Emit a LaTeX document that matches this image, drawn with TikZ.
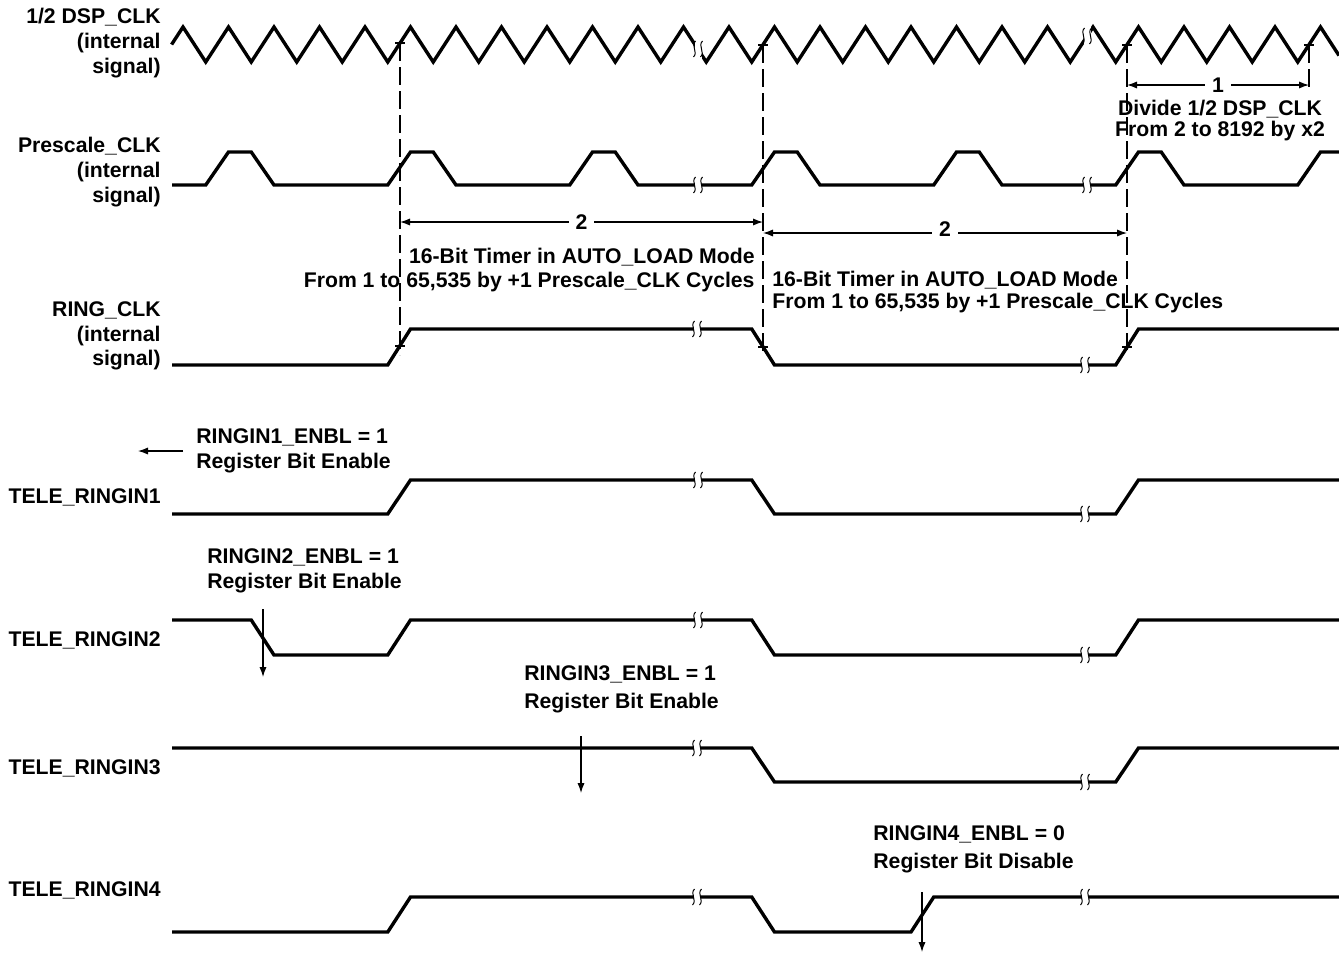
\documentclass[tikz,border=0pt]{standalone}
\usepackage{fontspec}
\setmainfont{Liberation Sans}
\usepackage{tikz}
\usetikzlibrary{arrows.meta}

\begin{document}
\begin{tikzpicture}[x=0.5pt, y=-0.5pt,
    every node/.style={font=\fontsize{10.6pt}{12.3pt}\selectfont\bfseries, inner sep=0pt},
    wave/.style={line width=1.7pt},
    guide/.style={line width=0.6pt, dash pattern=on 9pt off 3pt},
    dim/.style={line width=0.6pt, {Latex[length=5pt,width=3.6pt]}-{Latex[length=5pt,width=3.6pt]}},
    ptr/.style={line width=0.6pt, -{Latex[length=5pt,width=3.6pt]}},
    edgemark/.pic={\draw[line width=0.6pt] (-5,0) -- (5,0);},
    wavebreak/.pic={
        \fill[white] (-3.5,-10) rectangle (3.5,10);
        \draw[line width=0.5pt] (-2.5,-8) .. controls (-7.5,-3) and (0.5,3) .. (-4.5,8);
        \draw[line width=0.5pt] (4.5,-8) .. controls (-0.5,-3) and (7.5,3) .. (2.5,8);
    }]
    \useasboundingbox (0,0) rectangle (1339,953);

    % Signal names
    \node[anchor=east, align=right] (dspclk) at (161,43) {1/2 DSP\_CLK\\(internal\\signal)};
    \node[anchor=east, align=right] (prescale) at (161,172) {Prescale\_CLK\\(internal\\signal)};
    \node[anchor=east, align=right] (ringclk) at (161,336) {RING\_CLK\\(internal\\signal)};
    \node[anchor=east] (tele1) at (161,497) {TELE\_RINGIN1};
    \node[anchor=east] (tele2) at (161,640) {TELE\_RINGIN2};
    \node[anchor=east] (tele3) at (161,768) {TELE\_RINGIN3};
    \node[anchor=east] (tele4) at (161,890) {TELE\_RINGIN4};

    % Waveforms
    \draw[wave] (171.6,44.5) foreach \k in {0,...,24} { -- ({183+45.5*\k},27) -- ({205.75+45.5*\k},62) }
        -- (1320.5,27) -- (1339,55.5);
    \draw[wave] (172,185) foreach \k in {0,...,5} { -- ({205.75+182*\k},185) -- ({228.5+182*\k},152)
        -- ({251.25+182*\k},152) -- ({274+182*\k},185) } -- (1297.75,185) -- (1320.5,152) -- (1339,152);
    \draw[wave] (172,365) -- (387.75,365) -- (410.5,329) -- (751.75,329) -- (774.5,365)
        -- (1115.75,365) -- (1138.5,329) -- (1339,329);
    \draw[wave] (172,514) -- (387.75,514) -- (410.5,480) -- (751.75,480) -- (774.5,514)
        -- (1115.75,514) -- (1138.5,480) -- (1339,480);
    \draw[wave] (172,620) -- (251.25,620) -- (274,655) -- (387.75,655) -- (410.5,620) -- (751.75,620)
        -- (774.5,655) -- (1115.75,655) -- (1138.5,620) -- (1339,620);
    \draw[wave] (172,748) -- (751.75,748) -- (774.5,782) -- (1115.75,782) -- (1138.5,748) -- (1339,748);
    \draw[wave] (172,932) -- (387.75,932) -- (410.5,897) -- (751.75,897) -- (774.5,932)
        -- (911,932) -- (933.75,897) -- (1339,897);

    % Breaks
    \pic at (698,49) {wavebreak};
    \pic at (1087,36) {wavebreak};
    \pic at (698,185) {wavebreak};
    \pic at (1087,185) {wavebreak};
    \pic at (697,329) {wavebreak};
    \pic at (1085,365) {wavebreak};
    \pic at (698,480) {wavebreak};
    \pic at (1085,514) {wavebreak};
    \pic at (698,620) {wavebreak};
    \pic at (1085,655) {wavebreak};
    \pic at (697,748) {wavebreak};
    \pic at (1085,782) {wavebreak};
    \pic at (697,897) {wavebreak};
    \pic at (1085,897) {wavebreak};

    % Edge marks
    \coordinate (e1) at (400,43);
    \coordinate (e2) at (763,45);
    \coordinate (e3) at (1127,45);
    \coordinate (e4) at (1309,45);
    \coordinate (r1) at (400,346);
    \coordinate (r2) at (763,347);
    \coordinate (r3) at (1127,347);
    \coordinate (g1) at (400,355);
    \coordinate (g2) at (763,355);
    \coordinate (g3) at (1127,350);
    \coordinate (g4) at (1309,92);
    \foreach \c in {e1,e2,e3,e4,r1,r2,r3} \pic at (\c) {edgemark};
    \draw[guide] (e1) -- (g1);
    \draw[guide] (e2) -- (g2);
    \draw[guide] (e3) -- (g3);
    \draw[guide] (e4) -- (g4);

    % Dimensions
    \coordinate (d1l) at (1127,85);
    \coordinate (d1r) at (1309,85);
    \coordinate (d2l) at (400,222);
    \coordinate (d2r) at (763,222);
    \coordinate (d3l) at (763,233);
    \coordinate (d3r) at (1127,233);
    \draw[dim] (d1l) -- node[fill=white, inner xsep=3.5pt] (n1) {1} (d1r);
    \draw[dim] (d2l) -- node[fill=white, inner xsep=3.5pt] (n2) {2} (d2r);
    \draw[dim] (d3l) -- node[fill=white, inner xsep=3.5pt, yshift=2pt] (n3) {2} (d3r);

    % Notes
    \node[align=center] (divide) at (1220,121) {Divide 1/2 DSP\_CLK\\[-1.8pt]From 2 to 8192 by x2};
    \node[anchor=east, align=right] (timer1) at (755,270) {16-Bit Timer in AUTO\_LOAD Mode\\From 1 to 65,535 by +1 Prescale\_CLK Cycles};
    \node[anchor=west, align=left] (timer2) at (772,292) {16-Bit Timer in AUTO\_LOAD Mode\\[-1.3pt]From 1 to 65,535 by +1 Prescale\_CLK Cycles};
    \node[anchor=west, align=left] (enbl1) at (196,451) {RINGIN1\_ENBL = 1\\Register Bit Enable};
    \node[anchor=west, align=left] (enbl2) at (207,571) {RINGIN2\_ENBL = 1\\Register Bit Enable};
    \node[anchor=west, align=left] (enbl3) at (524,689) {RINGIN3\_ENBL = 1\\[1.7pt]Register Bit Enable};
    \node[anchor=west, align=left] (enbl4) at (873,849) {RINGIN4\_ENBL = 0\\[1.7pt]Register Bit Disable};

    % Pointers
    \coordinate (p1s) at (183,451);
    \coordinate (p1e) at (138,451);
    \coordinate (p2s) at (263,609);
    \coordinate (p2e) at (263,677);
    \coordinate (p3s) at (581,736);
    \coordinate (p3e) at (581,793);
    \coordinate (p4s) at (922,892);
    \coordinate (p4e) at (922,952);
    \draw[ptr] (p1s) -- (p1e);
    \draw[ptr] (p2s) -- (p2e);
    \draw[ptr] (p3s) -- (p3e);
    \draw[ptr] (p4s) -- (p4e);
\end{tikzpicture}
\end{document}
